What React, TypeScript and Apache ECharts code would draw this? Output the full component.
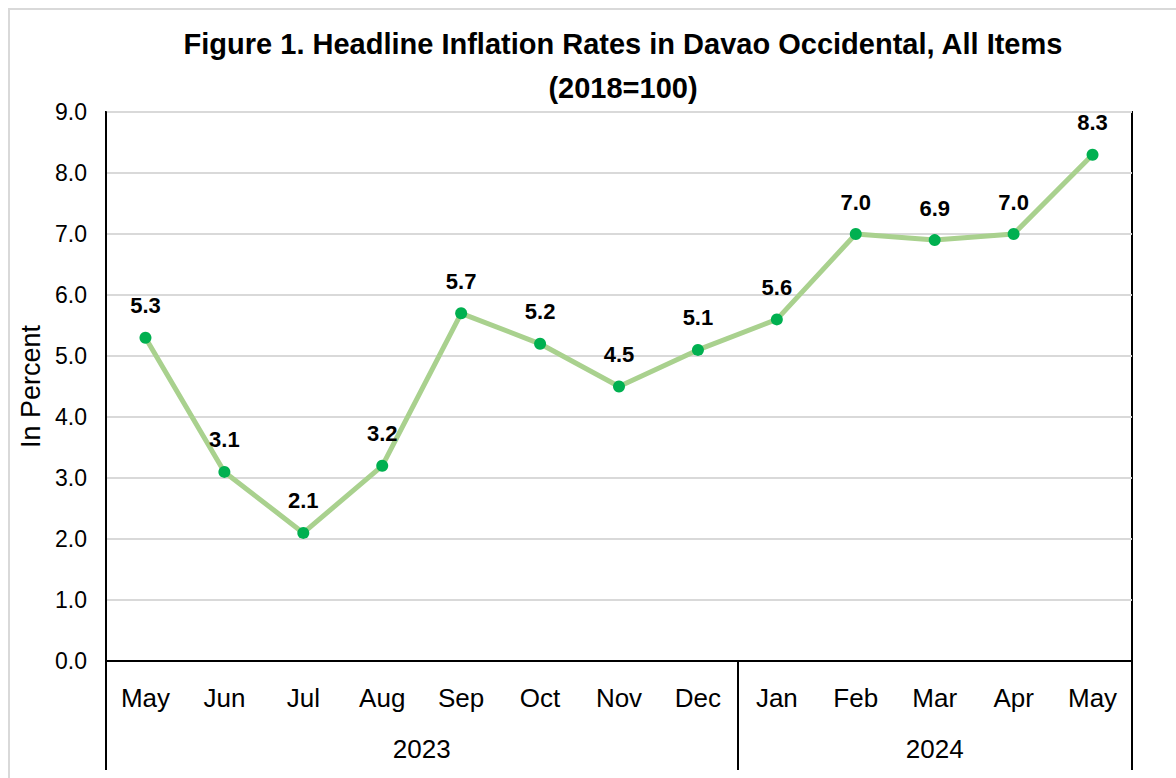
import React, { useEffect, useRef } from "react";
import * as echarts from "echarts";

const months = ["May", "Jun", "Jul", "Aug", "Sep", "Oct", "Nov", "Dec", "Jan", "Feb", "Mar", "Apr", "May"];
const inflation = [5.3, 3.1, 2.1, 3.2, 5.7, 5.2, 4.5, 5.1, 5.6, 7.0, 6.9, 7.0, 8.3];
const yearLabels = ["2023", "2024"];
const yearSpans = [8, 5];
const yTicks = [0, 1, 2, 3, 4, 5, 6, 7, 8, 9];

const SANS = "'Liberation Sans', Arial, sans-serif";

export default function App() {
  const ref = useRef<HTMLDivElement>(null);
  useEffect(() => {
    if (!ref.current) return;
    const chart = echarts.init(ref.current, null, { renderer: "svg" });
    const boundaries: number[] = [0];
    yearSpans.forEach((s) => boundaries.push(boundaries[boundaries.length - 1] + s));
    const centers = yearSpans.map((s, i) => boundaries[i] + s / 2);
    chart.setOption({
      animation: false,
      backgroundColor: "#ffffff",
      title: {
        text: "Figure 1. Headline Inflation Rates in Davao Occidental, All Items\n(2018=100)",
        left: 618,
        top: 17,
        textAlign: "center",
        textStyle: {
          fontFamily: SANS,
          fontWeight: "bold",
          fontSize: 29,
          lineHeight: 44,
          color: "#000000",
        },
      },
      graphic: [
        {
          type: "rect",
          shape: { x: 9, y: 9, width: 1250, height: 900 },
          style: { fill: "none", stroke: "#d9d9d9", lineWidth: 2 },
          silent: true,
          z: -10,
        },
      ],
      grid: {
        left: 106,
        right: 44,
        top: 112,
        bottom: 117,
        show: true,
        borderColor: "#000000",
        borderWidth: 2,
        backgroundColor: "transparent",
      },
      xAxis: [
        {
          type: "category",
          data: months,
          boundaryGap: true,
          axisLine: { lineStyle: { color: "#000000", width: 2 } },
          axisTick: { show: false },
          axisLabel: {
            margin: 24,
            fontFamily: SANS,
            fontSize: 26,
            color: "#000000",
            interval: 0,
          },
          splitLine: { show: false },
        },
        {
          type: "value",
          min: 0,
          max: boundaries[boundaries.length - 1],
          position: "bottom",
          axisLine: { show: false },
          splitLine: { show: false },
          axisTick: {
            show: true,
            customValues: boundaries,
            length: 109,
            lineStyle: { color: "#000000", width: 2 },
          },
          axisLabel: {
            show: true,
            customValues: centers,
            margin: 75,
            fontFamily: SANS,
            fontSize: 26,
            color: "#000000",
            formatter: (v: number) => {
              const idx = centers.findIndex((c) => Math.abs(c - v) < 1e-6);
              return idx >= 0 ? yearLabels[idx] : "";
            },
          },
        },
      ],
      yAxis: {
        type: "value",
        min: yTicks[0],
        max: yTicks[yTicks.length - 1],
        interval: 1,
        name: "In Percent",
        nameLocation: "middle",
        nameRotate: 90,
        nameGap: 56,
        nameTextStyle: { fontFamily: SANS, fontSize: 27, color: "#000000" },
        axisLine: { show: true, lineStyle: { color: "#000000", width: 2 } },
        axisTick: { show: false },
        axisLabel: {
          margin: 19,
          fontFamily: SANS,
          fontSize: 23,
          color: "#000000",
          formatter: (v: number) => v.toFixed(1),
        },
        splitLine: { lineStyle: { color: "#d9d9d9", width: 2 } },
      },
      series: [
        {
          type: "line",
          data: inflation,
          xAxisIndex: 0,
          yAxisIndex: 0,
          symbol: "circle",
          symbolSize: 12,
          lineStyle: { color: "#a9d18e", width: 5 },
          itemStyle: { color: "#00b050" },
          label: {
            show: true,
            position: "top",
            distance: 15,
            fontFamily: SANS,
            fontWeight: "bold",
            fontSize: 22,
            color: "#000000",
            formatter: (p: any) => Number(p.value).toFixed(1),
          },
          z: 5,
        },
      ],
    });
    return () => chart.dispose();
  }, []);
  return (
    <div
      ref={ref}
      style={{ position: "absolute", left: 0, top: 0, width: 1176, height: 778 }}
    />
  );
}
